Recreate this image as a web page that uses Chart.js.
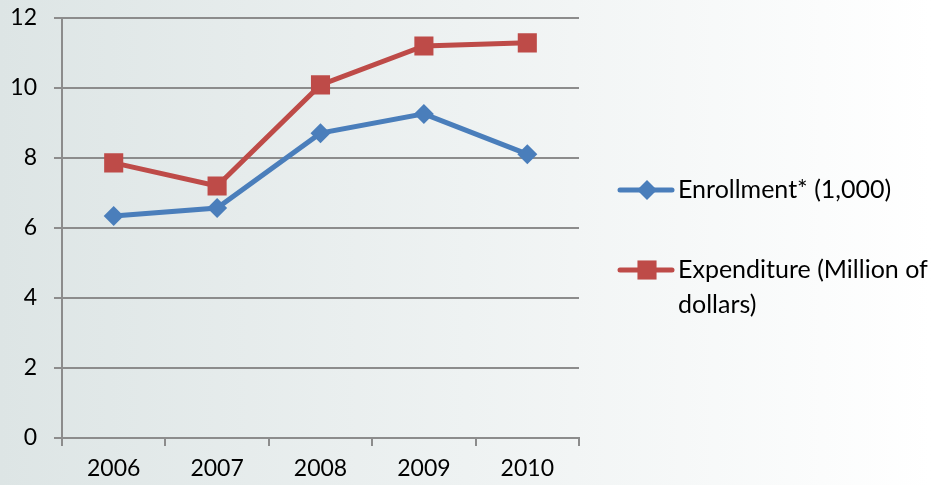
<!DOCTYPE html>
<html>
<head>
<meta charset="utf-8">
<script src="https://cdn.jsdelivr.net/npm/chart.js@4"></script>
<style>
  html, body { margin: 0; padding: 0; }
  body { width: 931px; height: 485px; background: linear-gradient(to right, #dde5e5 0%, #eef2f2 50%, #ffffff 100%); }
  #wrap { position: relative; width: 931px; height: 485px; }
</style>
</head>
<body>
<div id="wrap"><canvas id="chart" width="931" height="485"></canvas></div>
<script>
// ===== Data =====
const years = ['2006', '2007', '2008', '2009', '2010'];
const enrollment = [6.34, 6.57, 8.71, 9.26, 8.11];
const expenditure = [7.86, 7.2, 10.09, 11.2, 11.29];
const seriesNames = ['Enrollment* (1,000)', ['Expenditure (Million of', 'dollars)']];

const blue = '#4a7ebb';
const red = '#be4b48';
const gridColor = '#8c8c8c';
const fontFamily = 'Lato, "Open Sans", sans-serif';
const tickFont = { family: fontFamily, size: 23 };

// ===== Legend drawn at the right =====
const sideLegend = {
    id: 'sideLegend',
    afterDraw(chart) {
        const ctx = chart.ctx;
        const items = [
            { y: 190, color: blue, style: 'rectRot', r: 10, lines: [seriesNames[0]] },
            { y: 270, color: red, style: 'rect', r: 13.5, lines: seriesNames[1] }
        ];
        ctx.save();
        items.forEach(it => {
            ctx.strokeStyle = it.color;
            ctx.lineWidth = 5;
            ctx.lineCap = 'round';
            ctx.beginPath();
            ctx.moveTo(620, it.y);
            ctx.lineTo(672, it.y);
            ctx.stroke();
            ctx.fillStyle = it.color;
            Chart.helpers.drawPoint(ctx, { pointStyle: it.style, radius: it.r, borderWidth: 0 }, 647, it.y);
            ctx.fillStyle = '#000';
            ctx.font = '25px ' + fontFamily;
            ctx.textBaseline = 'middle';
            it.lines.forEach((txt, i) => ctx.fillText(txt, 678, it.y + i * 35));
        });
        ctx.restore();
    }
};

new Chart(document.getElementById('chart'), {
    type: 'line',
    data: {
        labels: years,
        datasets: [
            {
                label: 'Enrollment* (1,000)',
                data: enrollment,
                borderColor: blue,
                backgroundColor: blue,
                borderWidth: 5,
                pointStyle: 'rectRot',
                pointRadius: 10,
                pointBorderWidth: 0,
                tension: 0
            },
            {
                label: 'Expenditure (Million of dollars)',
                data: expenditure,
                borderColor: red,
                backgroundColor: red,
                borderWidth: 5,
                pointStyle: 'rect',
                pointRadius: 13.5,
                pointBorderWidth: 0,
                tension: 0
            }
        ]
    },
    options: {
        responsive: false,
        animation: false,
        layout: { padding: { top: 18, right: 352, left: 0, bottom: 0 } },
        plugins: {
            legend: { display: false },
            tooltip: { enabled: false }
        },
        scales: {
            x: {
                offset: true,
                grid: {
                    offset: true,
                    drawOnChartArea: false,
                    color: gridColor,
                    lineWidth: 2,
                    tickLength: 8
                },
                border: { color: gridColor, width: 2 },
                ticks: { color: '#000', font: tickFont, padding: 9 },
                afterFit(scale) { scale.height = 47; }
            },
            y: {
                min: 0,
                max: 12,
                ticks: { stepSize: 2, color: '#000', font: tickFont, padding: 17 },
                grid: { color: gridColor, lineWidth: 2, tickLength: 8 },
                border: { color: gridColor, width: 2 },
                afterFit(scale) {
                    scale.width = 62;
                    scale.paddingTop = 0;
                    scale.paddingBottom = 0;
                }
            }
        }
    },
    plugins: [sideLegend]
});
</script>
</body>
</html>
